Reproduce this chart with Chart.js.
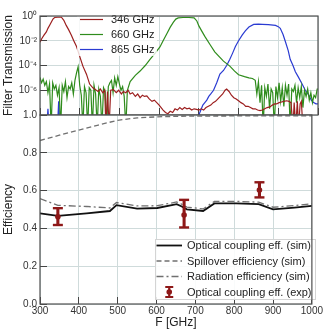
<!DOCTYPE html>
<html>
<head>
<meta charset="utf-8">
<script src="https://cdn.jsdelivr.net/npm/chart.js@4.4.1/dist/chart.umd.min.js"></script>
<style>
  html, body { margin: 0; padding: 0; background: #fff; }
  #wrap { position: relative; width: 331px; height: 331px; }
  #wrap canvas { position: absolute; left: 0; top: 0; }
</style>
</head>
<body>
<div id="wrap">
  <canvas id="filterChart" width="331" height="331"></canvas>
  <canvas id="effChart" width="331" height="331"></canvas>
</div>
<script>
// top panel: filter transmission, stored as log10 exponents (-9 = below the axis)
const f346 = [300,305,310,316,320,325,330,333,337,345,354,360,366,372,379,385,392,400,408,417,425,433,440,446,452,458,463,466,470,474,478,485,492,498,505,510,516,522,527,533,540,546,552,558,563,569,575,582,588,594,600,605,610,616,622,628,634,640,646,652,658,664,670,676,682,688,694,700,706,712,718,724,730,736,742,748,754,760,766,770,776,782,788,794,800,806,812,818,824,830,836,842,848,854,860,866,872,879,885,891,896,902,908,914,921,927,932,937,940,944,948,951,955,958,962];
const t346Exp = [-2.13,-1.8,-1.55,-1.29,-1.0,-0.7,-0.4,-0.23,-0.12,-0.1,-0.1,-0.35,-0.76,-1.1,-1.55,-2.0,-2.47,-3.26,-4.05,-4.7,-5.5,-5.8,-5.95,-6.1,-5.9,-6.2,-6.0,-9,-6.1,-9,-6.0,-5.95,-6.2,-6.0,-6.3,-6.1,-6.2,-6.0,-6.3,-6.2,-6.5,-6.3,-6.6,-6.4,-6.5,-6.45,-6.7,-6.9,-6.8,-7.0,-7.2,-7.4,-7.6,-7.8,-7.9,-7.7,-7.8,-7.5,-7.6,-7.4,-7.55,-7.4,-7.5,-7.45,-7.6,-7.5,-7.55,-7.6,-7.5,-7.6,-7.4,-7.3,-7.2,-7.0,-6.9,-6.7,-6.5,-6.3,-6.0,-5.9,-6.1,-6.4,-6.6,-6.7,-6.85,-7.0,-7.1,-7.3,-7.3,-7.4,-7.5,-7.5,-7.6,-7.65,-7.6,-7.5,-7.4,-7.35,-7.2,-7.1,-7.1,-7.0,-6.95,-6.9,-6.85,-6.9,-7.0,-9,-7.0,-9,-6.9,-9,-7.1,-6.9,-9];

const f660 = [300,304,308,312,316,320,324,328,332,336,340,344,348,352,356,360,364,368,372,376,380,384,388,392,396,400,404,408,412,416,420,424,428,432,436,440,444,448,452,456,460,464,468,472,476,480,484,488,492,496,500,504,508,512,516,520,527,540,552,565,577,590,602,610,619,628,636,642,648,660,675,688,695,700,707,715,728,740,753,762,770,778,790,800,815,826,835,842,846,850,854,858,862,866,870,874,878,882,886,890,894,898,902,906,910,914,918,922,926,930,934,938,942,946,950,954,958,962,966,970,974,978,982,986,990,994,998,1000];
const t660Exp = [-4.97,-5.4,-5.1,-5.6,-5.3,-6.2,-5.5,-9,-5.4,-5.9,-5.6,-6.4,-5.8,-9,-5.6,-6.1,-5.3,-6.6,-5.7,-5.9,-5.4,-6.3,-5.2,-4.6,-4.1,-5.6,-6.4,-9,-5.7,-6.2,-9,-5.8,-6.0,-9,-5.6,-6.3,-9,-5.9,-6.5,-9,-5.8,-6.1,-9,-5.7,-5.4,-5.2,-6.2,-5.0,-5.6,-4.9,-5.5,-6.0,-5.7,-6.5,-9,-6.0,-5.3,-4.8,-4.45,-4.0,-3.5,-3.0,-2.5,-2.0,-1.45,-0.9,-0.5,-0.25,-0.15,-0.12,-0.12,-0.15,-0.4,-0.8,-1.2,-1.65,-2.3,-2.9,-3.35,-3.65,-3.85,-4.05,-4.45,-4.75,-4.9,-5.0,-5.05,-5.2,-6.3,-5.3,-7.0,-5.6,-9,-5.8,-6.5,-5.5,-7.5,-5.9,-6.2,-9,-5.7,-6.6,-5.4,-6.9,-5.8,-7.3,-5.6,-6.4,-5.5,-9,-5.9,-6.1,-5.6,-7.0,-5.8,-6.6,-5.7,-7.4,-6.0,-6.5,-5.9,-6.8,-6.2,-7.0,-6.4,-6.6,-5.9,-5.9];

const f865 = [300,317,320,323,344,347,350,695,700,705,710,715,720,725,730,737,745,753,762,770,778,785,792,800,809,817,826,838,850,860,875,893,900,905,912,918,925,930,937,943,950,960,968,977,983,989,995,1000];
const t865Exp = [-9,-9,-7.5,-9,-9,-6.9,-9,-9,-8.0,-7.6,-7.2,-7.0,-6.8,-6.5,-6.3,-6.0,-5.4,-4.7,-4.4,-4.0,-3.5,-3.0,-2.47,-2.0,-1.55,-1.2,-0.89,-0.68,-0.66,-0.68,-0.7,-0.76,-0.86,-1.0,-1.5,-2.08,-2.8,-3.5,-4.0,-4.5,-4.9,-5.5,-6.0,-6.4,-6.8,-7.0,-7.1,-7.1];

const filterLabels = ['346 GHz', '660 GHz', '865 GHz'];
const transTicks = [1e-8, 1e-6, 1e-4, 1e-2, 1];
const transTickText = ['', '10⁻⁶', '10⁻⁴', '10⁻²', '10⁰'];

// bottom panel: efficiencies
const simFreq = [300, 346, 420, 480, 497, 550, 602, 652, 665, 678, 720, 749, 805, 863, 900, 955, 1000];
const couplingSim = [0.48, 0.466, 0.48, 0.492, 0.523, 0.505, 0.508, 0.528, 0.516, 0.501, 0.492, 0.532, 0.532, 0.528, 0.501, 0.51, 0.519];
const radiationSim = [0.558, 0.522, 0.516, 0.508, 0.537, 0.519, 0.52, 0.54, 0.528, 0.513, 0.503, 0.543, 0.543, 0.539, 0.512, 0.521, 0.53];
const spillFreq = [300, 350, 400, 450, 500, 550, 600, 650, 700, 800, 900, 1000];
const spillSim = [0.865, 0.893, 0.92, 0.947, 0.972, 0.985, 0.99, 0.993, 0.994, 0.995, 0.995, 0.995];
const expFreq = [346, 671, 865];
const expVal = [0.462, 0.471, 0.603];
const expLow = [0.418, 0.405, 0.564];
const expHigh = [0.507, 0.551, 0.644];
const effLabels = ['Optical coupling eff. (sim)', 'Spillover efficiency (sim)', 'Radiation efficiency (sim)', 'Optical coupling eff. (exp)'];

Chart.defaults.font.family = '"Liberation Sans", Arial, sans-serif';
Chart.defaults.color = '#333';
Chart.defaults.animation = false;

const gridCol = '#cfdbdb';
const darkRed = '#8e1818';

function toPoints(xs, ys) {
    return xs.map((x, i) => ({x: x, y: ys[i]}));
}
function expPoints(xs, es) {
    return xs.map((x, i) => ({x: x, y: Math.pow(10, es[i])}));
}

// frame round the plot area, drawn last like the spines
const framePlugin = {
    id: 'frame',
    afterDraw(chart) {
        const a = chart.chartArea, ctx = chart.ctx;
        ctx.save();
        ctx.strokeStyle = '#505050';
        ctx.lineWidth = 1.2;
        ctx.strokeRect(a.left, a.top, a.right - a.left, a.bottom - a.top);
        ctx.restore();
    }
};

// legend box inside the plot area
const boxLegend = {
    id: 'boxLegend',
    afterDatasetsDraw(chart, args, opts) {
        const ctx = chart.ctx;
        const items = chart.data.datasets.filter(d => d.inLegend);
        ctx.save();
        ctx.fillStyle = 'rgba(255,255,255,' + opts.alpha + ')';
        ctx.fillRect(opts.x, opts.y, opts.w, opts.h);
        if (opts.edge) {
            ctx.strokeStyle = opts.edge;
            ctx.lineWidth = 1;
            ctx.strokeRect(opts.x + 0.5, opts.y + 0.5, opts.w - 1, opts.h - 1);
        }
        ctx.font = '11px "Liberation Sans", Arial, sans-serif';
        ctx.textBaseline = 'middle';
        ctx.textAlign = 'left';
        items.forEach((d, i) => {
            const y = opts.y + opts.first + i * opts.row;
            const x0 = opts.x + opts.sample[0], x1 = opts.x + opts.sample[1];
            if (d.legendMarker === 'errbar') {
                const cx = (x0 + x1) / 2;
                ctx.strokeStyle = d.backgroundColor;
                ctx.lineWidth = 2.2;
                ctx.beginPath();
                ctx.moveTo(cx, y - 5); ctx.lineTo(cx, y + 5);
                ctx.moveTo(cx - 4, y - 5); ctx.lineTo(cx + 4, y - 5);
                ctx.moveTo(cx - 4, y + 5); ctx.lineTo(cx + 4, y + 5);
                ctx.stroke();
                ctx.fillStyle = d.backgroundColor;
                ctx.beginPath();
                ctx.arc(cx, y, 2.8, 0, Math.PI * 2);
                ctx.fill();
            } else {
                ctx.strokeStyle = d.borderColor;
                ctx.lineWidth = d.borderWidth;
                ctx.setLineDash(d.borderDash || []);
                ctx.beginPath();
                ctx.moveTo(x0, y); ctx.lineTo(x1, y);
                ctx.stroke();
                ctx.setLineDash([]);
            }
            ctx.fillStyle = '#222';
            ctx.fillText(d.label, opts.x + opts.text, y + 0.5);
        });
        ctx.restore();
    }
};

function lineSet(label, data, color, width, dash) {
    return {
        type: 'line', label: label, data: data,
        borderColor: color, backgroundColor: color, borderWidth: width, borderDash: dash || [],
        pointRadius: 0, tension: 0, fill: false, inLegend: true, order: 1
    };
}

// ---------- top chart ----------
new Chart(document.getElementById('filterChart'), {
    type: 'line',
    data: {
        datasets: [
            lineSet(filterLabels[0], expPoints(f346, t346Exp), '#9c1f1f', 1.2),
            lineSet(filterLabels[1], expPoints(f660, t660Exp), '#2f8c1c', 1.2),
            lineSet(filterLabels[2], expPoints(f865, t865Exp), '#2a3bd2', 1.2)
        ]
    },
    options: {
        responsive: false,
        layout: { padding: { top: 13, right: 13, bottom: 215, left: 0 } },
        plugins: {
            legend: { display: false },
            tooltip: { enabled: false },
            boxLegend: { x: 77, y: 13, w: 80, h: 43, alpha: 0.8, edge: null, first: 6.5, row: 15, sample: [3, 26], text: 34 }
        },
        scales: {
            x: {
                type: 'linear', min: 300, max: 1000, offset: false,
                ticks: { display: false, stepSize: 100 },
                grid: { color: gridCol, tickColor: '#444', tickLength: -7 },
                border: { display: false },
                afterFit: s => { s.height = 1; }
            },
            y: {
                type: 'logarithmic', min: 1e-8, max: 1,
                afterBuildTicks: s => { s.ticks = transTicks.map(v => ({value: v})); },
                ticks: {
                    padding: 10, font: { size: 10 },
                    callback: (v, i) => transTickText[i]
                },
                grid: { color: gridCol, tickColor: '#444', tickLength: -7 },
                border: { display: false },
                title: { display: true, text: 'Filter Transmission', color: '#222', font: { size: 12 }, padding: { top: 1, bottom: 0 } },
                afterFit: s => { s.width = 40; }
            }
        }
    },
    plugins: [boxLegend, framePlugin]
});

// ---------- bottom chart ----------
new Chart(document.getElementById('effChart'), {
    type: 'line',
    data: {
        datasets: [
            lineSet(effLabels[0], toPoints(simFreq, couplingSim), '#111', 1.8),
            lineSet(effLabels[1], toPoints(spillFreq, spillSim), '#707070', 1.3, [5, 3]),
            lineSet(effLabels[2], toPoints(simFreq, radiationSim), '#707070', 1.3, [7, 3, 2, 3]),
            {
                type: 'line', label: effLabels[3], data: toPoints(expFreq, expVal),
                showLine: false, pointStyle: 'circle', pointRadius: 2.8,
                backgroundColor: darkRed, borderColor: darkRed, borderWidth: 0,
                inLegend: true, legendMarker: 'errbar', order: 0
            },
            {
                type: 'bar', label: 'err', data: expFreq.map((f, i) => ({x: f, y: [expLow[i], expHigh[i]]})),
                backgroundColor: darkRed, borderWidth: 0, barThickness: 2.4, order: 0
            },
            {
                type: 'line', label: 'capHigh', data: toPoints(expFreq, expHigh),
                showLine: false, pointStyle: 'line', pointRadius: 5, pointBorderWidth: 2.4,
                borderColor: darkRed, backgroundColor: darkRed, order: 0
            },
            {
                type: 'line', label: 'capLow', data: toPoints(expFreq, expLow),
                showLine: false, pointStyle: 'line', pointRadius: 5, pointBorderWidth: 2.4,
                borderColor: darkRed, backgroundColor: darkRed, order: 0
            }
        ]
    },
    options: {
        responsive: false,
        layout: { padding: { top: 115, right: 13, bottom: 0, left: 0 } },
        plugins: {
            legend: { display: false },
            tooltip: { enabled: false },
            boxLegend: { x: 155, y: 239, w: 161, h: 61, alpha: 0.88, edge: '#d4d4d4', first: 6.5, row: 15.5, sample: [1.5, 27], text: 32 }
        },
        scales: {
            x: {
                type: 'linear', min: 300, max: 1000, offset: false,
                ticks: { stepSize: 100, padding: 8, font: { size: 10 }, maxRotation: 0, callback: v => String(v) },
                grid: { color: gridCol, tickColor: '#444', tickLength: -7, offset: false },
                border: { display: false },
                title: { display: true, text: 'F [GHz]', color: '#222', font: { size: 12 }, padding: { top: 0, bottom: 1 } },
                afterFit: s => { s.height = 27; }
            },
            y: {
                type: 'linear', min: 0, max: 1,
                ticks: { stepSize: 0.2, padding: 10, font: { size: 10 }, callback: v => v.toFixed(1) },
                grid: { color: gridCol, tickColor: '#444', tickLength: -7 },
                border: { display: false },
                title: { display: true, text: 'Efficiency', color: '#222', font: { size: 12 }, padding: { top: 1, bottom: 0 } },
                afterFit: s => { s.width = 40; }
            }
        }
    },
    plugins: [boxLegend, framePlugin]
});
</script>
</body>
</html>
